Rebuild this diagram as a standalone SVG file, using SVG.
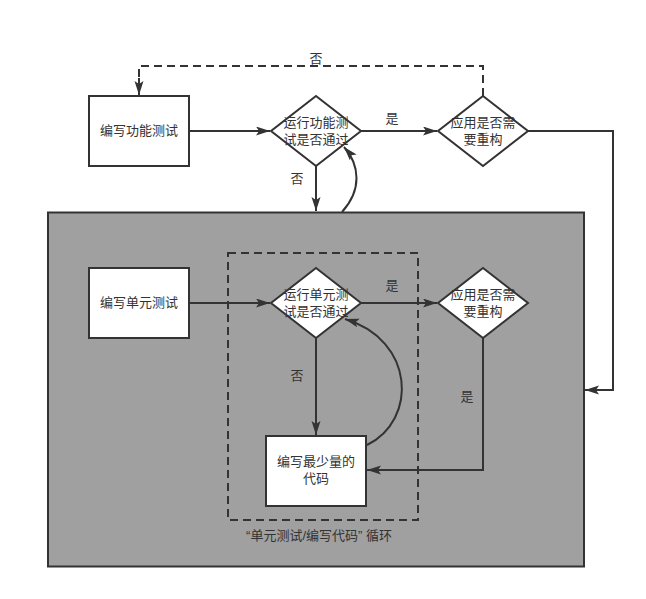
<svg xmlns="http://www.w3.org/2000/svg" width="646" height="599" viewBox="0 0 646 599">
<style>
.box{fill:#fff;stroke:#333;stroke-width:2}
.ln{fill:none;stroke:#333;stroke-width:2}
.dash{fill:none;stroke:#333;stroke-width:2;stroke-dasharray:8 5}
text{font-family:"Liberation Sans","Noto Sans CJK SC",sans-serif;font-size:13px;fill:#333;text-anchor:middle}
</style>
<defs>
<marker id="arr" markerUnits="userSpaceOnUse" markerWidth="16" markerHeight="12" refX="14" refY="4.5" orient="auto">
<path d="M0,0 L14,4.5 L0,9 L3,4.5 z" fill="#333"/>
</marker>
</defs>
<rect width="646" height="599" fill="#fff"/>
<g id="container">
<rect x="48" y="212.5" width="536" height="354" fill="#a0a0a0" stroke="#333" stroke-width="2"/>
</g>
<g id="loop">
<rect x="228" y="253" width="190" height="267" class="dash"/>
<text x="319" y="540">“单元测试/编写代码” 循环</text>
</g>
<g id="connectors">
<path class="ln" d="M189,131 H270" marker-end="url(#arr)"/>
<path class="ln" d="M361,131 H437" marker-end="url(#arr)"/>
<path class="ln" d="M316,166 V211" marker-end="url(#arr)"/>
<path class="ln" d="M342,212 C362,190 360,165 344,147" marker-end="url(#arr)"/>
<path class="dash" d="M483,96 V66 H139 V80"/>
<path class="ln" d="M139,78 V95" marker-end="url(#arr)"/>
<path class="ln" d="M528,131 H613 V390 H585" marker-end="url(#arr)"/>
<path class="ln" d="M189,303 H270" marker-end="url(#arr)"/>
<path class="ln" d="M361,303 H437" marker-end="url(#arr)"/>
<path class="ln" d="M316,338 V435" marker-end="url(#arr)"/>
<path class="ln" d="M367,445 C418,420 415,340 345,319" marker-end="url(#arr)"/>
<path class="ln" d="M483,338 V470 H367" marker-end="url(#arr)"/>
<text x="316" y="63">否</text>
<text x="392" y="123">是</text>
<text x="297" y="183">否</text>
<text x="392" y="290">是</text>
<text x="297" y="380">否</text>
<text x="467" y="401">是</text>
</g>
<g id="n1">
<rect class="box" x="89" y="96" width="100" height="70"/>
<text x="139" y="135">编写功能测试</text>
</g>
<g id="n2">
<path class="box" d="M316,96 L361,131 L316,166 L271,131 z"/>
<text x="316" y="127">运行功能测</text>
<text x="316" y="144">试是否通过</text>
</g>
<g id="n3">
<path class="box" d="M483,96 L528,131 L483,166 L438,131 z"/>
<text x="483" y="127">应用是否需</text>
<text x="483" y="144">要重构</text>
</g>
<g id="n4">
<rect class="box" x="89" y="268" width="100" height="70"/>
<text x="139" y="307">编写单元测试</text>
</g>
<g id="n5">
<path class="box" d="M316,268 L361,303 L316,338 L271,303 z"/>
<text x="316" y="299">运行单元测</text>
<text x="316" y="316">试是否通过</text>
</g>
<g id="n6">
<path class="box" d="M483,268 L528,303 L483,338 L438,303 z"/>
<text x="483" y="299">应用是否需</text>
<text x="483" y="316">要重构</text>
</g>
<g id="n7">
<rect class="box" x="266" y="436" width="100" height="70"/>
<text x="316" y="466">编写最少量的</text>
<text x="316" y="483">代码</text>
</g>
</svg>
